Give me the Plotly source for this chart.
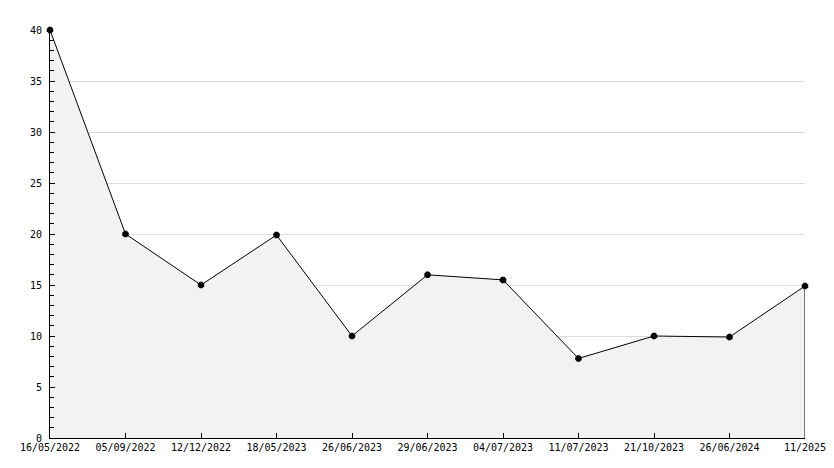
import plotly.graph_objects as go

dates = ["16/05/2022", "05/09/2022", "12/12/2022", "18/05/2023", "26/06/2023",
         "29/06/2023", "04/07/2023", "11/07/2023", "21/10/2023", "26/06/2024", "11/2025"]
values = [40, 20, 15, 19.9, 10, 16, 15.5, 7.8, 10, 9.9, 14.9]
y_ticks = [0, 5, 10, 15, 20, 25, 30, 35, 40]

fig = go.Figure()
fig.add_trace(go.Scatter(
    x=dates, y=values, mode="lines+markers",
    fill="tozeroy", fillcolor="#f2f2f2",
    line=dict(color="black", width=1),
    marker=dict(symbol="octagon", size=7, color="black"),
    cliponaxis=False,
    hoverinfo="x+y", showlegend=False,
))
# closing edge of the filled area at the last point
fig.add_trace(go.Scatter(
    x=[dates[-1], dates[-1]], y=[0, values[-1]], mode="lines",
    line=dict(color="black", width=1), hoverinfo="skip", showlegend=False,
))

fig.update_layout(
    width=826, height=460,
    margin=dict(l=42, r=29, t=22, b=30, autoexpand=False),
    paper_bgcolor="white", plot_bgcolor="white",
    font=dict(family="DejaVu Sans Mono", size=10, color="black"),
    xaxis=dict(
        type="category", range=[0, len(dates) - 1],
        showline=True, linecolor="black", linewidth=1,
        ticks="inside", ticklen=5, tickcolor="black",
        showgrid=False, zeroline=False, fixedrange=True,
        automargin=False,
    ),
    yaxis=dict(
        range=[0, 40], tickvals=y_ticks,
        showline=True, linecolor="black", linewidth=1,
        ticks="inside", ticklen=5, tickcolor="black",
        ticklabelstandoff=5,
        showgrid=True, gridcolor="#dcdcdc", gridwidth=1,
        zeroline=False, fixedrange=True, automargin=False,
        minor=dict(dtick=1, ticks="inside", ticklen=4, tickcolor="black", showgrid=False),
    ),
)

fig.write_html("out.html")
